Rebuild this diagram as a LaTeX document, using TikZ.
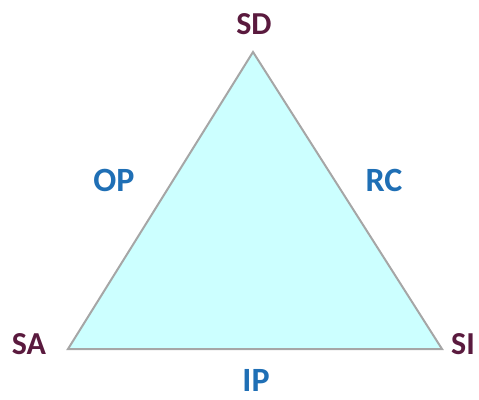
\documentclass[tikz,border=0pt]{standalone}
\usepackage{fontspec}
\setmainfont{Carlito}
\definecolor{vertexcol}{HTML}{5A1A3E}
\definecolor{edgelab}{HTML}{1F6FB5}
\definecolor{trifill}{HTML}{CCFFFF}
\definecolor{triedge}{HTML}{A6A6A6}
\begin{document}
\begin{tikzpicture}[x=1pt,y=1pt,
  vlabel/.style={text=vertexcol, font=\fontsize{32}{36}\selectfont\bfseries, inner sep=0pt},
  elabel/.style={text=edgelab, font=\fontsize{34}{38}\selectfont\bfseries, inner sep=0pt}]
\useasboundingbox (0,0) rectangle (479,399);
% triangle corners
\coordinate (top) at (253,347);
\coordinate (left) at (68,50);
\coordinate (right) at (442,50);
\draw[triedge, line width=2pt, fill=trifill, line join=miter] (top) -- (right) -- (left) -- cycle;
% vertex labels
\node[vlabel] (sd) at (254,375) {SD};
\node[vlabel] (sa) at (29,55) {SA};
\node[vlabel] (si) at (463,55) {SI};
% edge labels
\node[elabel] (op) at (114,219) {OP};
\node[elabel] (rc) at (384,219) {RC};
\node[elabel] (ip) at (256,19) {IP};
\end{tikzpicture}
\end{document}
